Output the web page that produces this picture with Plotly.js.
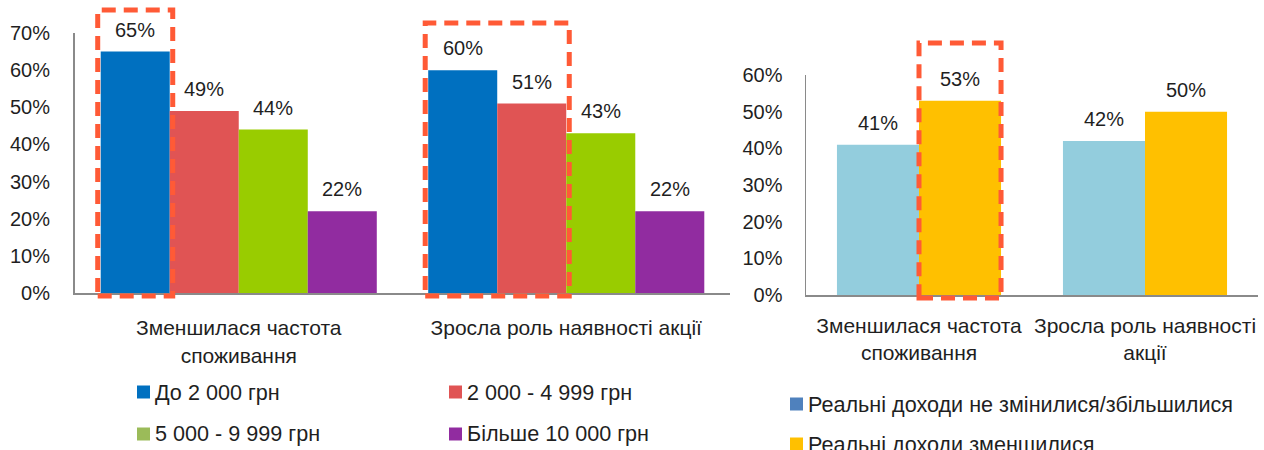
<!DOCTYPE html>
<html>
<head>
<meta charset="utf-8">
<script src="https://cdn.plot.ly/plotly-3.0.1.min.js"></script>
<style>
  html, body { margin: 0; padding: 0; background: #ffffff; }
  #wrap { position: relative; width: 1264px; height: 450px; overflow: hidden; background: #ffffff; }
  #byIncome { position: absolute; left: 0; top: 0; width: 740px; height: 450px; }
  #byTrend { position: absolute; left: 700px; top: 0; width: 564px; height: 450px; }
</style>
</head>
<body>
<div id="wrap">
  <div id="byIncome"></div>
  <div id="byTrend"></div>
</div>
<script>
// ---- data: change in consumption by monthly income ----
const questionLabels = ['Зменшилася частота<br>споживання', 'Зросла роль наявності акції'];
const incomeGroups = ['До 2 000 грн', '2 000 - 4 999 грн', '5 000 - 9 999 грн', 'Більше 10 000 грн'];
const incomeUpTo2000 = [65, 60];
const income2000to4999 = [49, 51];
const income5000to9999 = [44, 43];
const incomeOver10000 = [22, 22];
const incomeTicks = [0, 10, 20, 30, 40, 50, 60, 70];

// ---- data: change in consumption by real income trend ----
const trendQuestionLabels = ['Зменшилася частота<br>споживання', 'Зросла роль наявності<br>акції'];
const trendGroups = ['Реальні доходи не змінилися/збільшилися', 'Реальні доходи зменшилися'];
const trendStableOrUp = [41, 42];
const trendDown = [53, 50];
const trendTicks = [0, 10, 20, 30, 40, 50, 60];

// ---- styling ----
const FONT = 'Liberation Sans, Arial, sans-serif';
const TEXT = '#1f1f1f';
const AXIS = '#8a8a8a';
const HILITE = '#ff5a36';
const incomeBarColors = ['#0070c0', '#e05454', '#99cc00', '#912ca0'];
const incomeKeyColors = ['#0070c0', '#e05454', '#9bbb59', '#912ca0'];
const trendBarColors = ['#93cddd', '#ffc000'];
const trendKeyColors = ['#4f81bd', '#ffc000'];

function buildChart(el, cfg) {
  const n = cfg.series.length;
  const nCat = cfg.categories.length;
  const W = cfg.width, H = 450;
  const m = cfg.margin;
  const plotW = W - m.l - m.r, plotH = H - m.t - m.b;
  const rMax = cfg.ticks[cfg.ticks.length - 1];
  const idx = cfg.categories.map((_, i) => i);
  const bw = (1 - cfg.bargap) / n;                     // one bar, in category units
  const barCenter = (c, s) => c + (s - (n - 1) / 2) * bw;
  const pxX = px => (px - cfg.left - m.l) / plotW;     // page pixel -> paper x
  const pxY = py => (H - m.b - py) / plotH;            // page pixel -> paper y
  const valY = v => v / rMax;                          // value -> paper y

  const traces = cfg.series.map((vals, s) => ({
    type: 'bar',
    x: idx,
    y: vals,
    name: cfg.names[s],
    marker: { color: cfg.barColors[s], line: { width: 0 } },
    hoverinfo: 'skip',
    showlegend: false
  }));

  // value labels above each bar
  const annotations = [];
  cfg.series.forEach((vals, s) => {
    vals.forEach((v, c) => {
      annotations.push({
        x: barCenter(c, s), y: v, xref: 'x', yref: 'y',
        text: v + '%', showarrow: false,
        yanchor: 'middle', yshift: 22,
        font: { family: FONT, size: cfg.labelSize, color: TEXT }
      });
    });
  });

  // key: square swatch + series name
  const shapes = [];
  cfg.names.forEach((name, s) => {
    const k = cfg.key[s];
    shapes.push({
      type: 'rect', xref: 'paper', yref: 'paper',
      x0: pxX(k.x), x1: pxX(k.x + 13),
      y0: pxY(k.y + 6.5), y1: pxY(k.y - 6.5),
      fillcolor: cfg.keyColors[s], line: { width: 0 }
    });
    annotations.push({
      x: pxX(k.x + 16), y: pxY(k.y), xref: 'paper', yref: 'paper',
      xanchor: 'left', yanchor: 'middle', showarrow: false,
      text: name, font: { family: FONT, size: cfg.keySize, color: TEXT }
    });
  });

  // dashed highlight frames around chosen bars
  cfg.highlights.forEach(h => {
    const padU = h.pad / (plotW / nCat);
    shapes.push({
      type: 'rect', xref: 'x', yref: 'paper', layer: 'above',
      x0: barCenter(h.cat, h.from) - bw / 2 - padU,
      x1: barCenter(h.cat, h.to) + bw / 2 + padU,
      y0: valY(-0.8), y1: valY(h.top),
      fillcolor: 'rgba(0,0,0,0)',
      line: { color: HILITE, width: 5, dash: '14px,8px' }
    });
  });

  const layout = {
    width: W, height: H,
    margin: m,
    paper_bgcolor: 'rgba(0,0,0,0)', plot_bgcolor: 'rgba(0,0,0,0)',
    barmode: 'group', bargap: cfg.bargap, bargroupgap: 0,
    showlegend: false,
    font: { family: FONT, color: TEXT },
    xaxis: {
      type: 'linear', range: [-0.5, nCat - 0.5],
      tickvals: idx, ticktext: cfg.categories,
      showline: true, linecolor: AXIS, linewidth: cfg.axisWidth,
      ticks: '', showgrid: false, zeroline: false,
      ticklabelstandoff: cfg.catStandoff,
      tickfont: { family: FONT, size: cfg.catSize, color: TEXT },
      fixedrange: true
    },
    yaxis: {
      range: [0, rMax], tickvals: cfg.ticks,
      ticktext: cfg.ticks.map(t => t + '%'),
      showline: true, linecolor: AXIS, linewidth: cfg.axisWidth,
      ticks: '', showgrid: false, zeroline: false,
      ticklabelstandoff: cfg.tickStandoff,
      tickfont: { family: FONT, size: cfg.tickSize, color: TEXT },
      fixedrange: true
    },
    annotations: annotations,
    shapes: shapes
  };

  Plotly.newPlot(el, traces, layout, { staticPlot: true, displayModeBar: false });
}

buildChart('byIncome', {
  left: 0,
  width: 740,
  margin: { l: 75, r: 10, t: 33, b: 157 },
  categories: questionLabels,
  names: incomeGroups,
  series: [incomeUpTo2000, income2000to4999, income5000to9999, incomeOver10000],
  barColors: incomeBarColors,
  keyColors: incomeKeyColors,
  ticks: incomeTicks,
  bargap: 0.157,
  axisWidth: 2,
  tickSize: 20, catSize: 21, labelSize: 20, keySize: 21.6,
  tickStandoff: 19, catStandoff: 15,
  key: [{ x: 137, y: 392 }, { x: 449, y: 392 }, { x: 137, y: 434 }, { x: 449, y: 434 }],
  highlights: [
    { cat: 0, from: 0, to: 0, top: 76.2, pad: 3 },
    { cat: 1, from: 0, to: 1, top: 72.7, pad: 3 }
  ]
});

buildChart('byTrend', {
  left: 700,
  width: 564,
  margin: { l: 106, r: 6, t: 75, b: 155 },
  categories: trendQuestionLabels,
  names: trendGroups,
  series: [trendStableOrUp, trendDown],
  barColors: trendBarColors,
  keyColors: trendKeyColors,
  ticks: trendTicks,
  bargap: 0.274,
  axisWidth: 1.5,
  tickSize: 20, catSize: 21, labelSize: 20, keySize: 21.6,
  tickStandoff: 18, catStandoff: 11,
  key: [{ x: 790, y: 404 }, { x: 790, y: 444 }],
  highlights: [
    { cat: 0, from: 1, to: 1, top: 68.7, pad: 0 }
  ]
});
</script>
</body>
</html>
